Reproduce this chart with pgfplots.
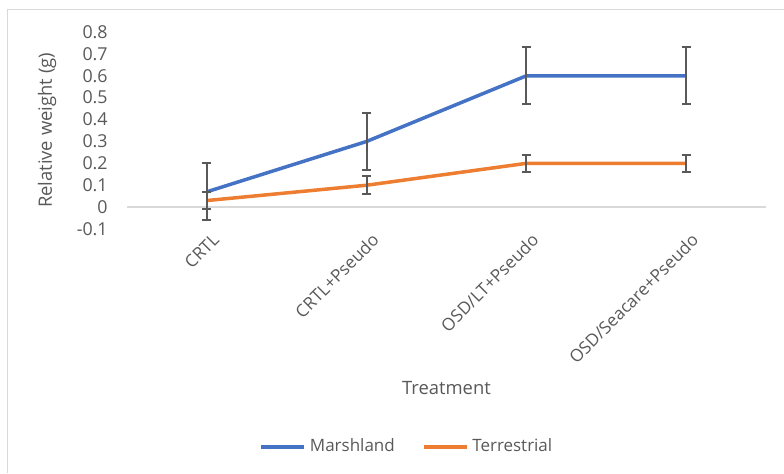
\documentclass[border=0pt]{standalone}
\usepackage{pgfplots}
\pgfplotsset{compat=1.18}
\usepackage{fontspec}
\setmainfont{Open Sans}
\definecolor{mblue}{HTML}{4472C4}
\definecolor{morange}{HTML}{ED7D31}
\definecolor{txtgray}{HTML}{595959}
\definecolor{gridgray}{HTML}{D9D9D9}
\begin{document}
\begin{tikzpicture}[x=1pt,y=1pt]
\path[use as bounding box] (-63.5,-122) rectangle (328.5,114.5);
\draw[gridgray, line width=0.8pt] (-59.75,-122) -- (-59.75,109.75) -- (328.5,109.75);
\begin{axis}[
  at={(0,0)}, anchor=south west,
  scale only axis, width=319.5pt, height=98.5pt,
  xmin=-0.5, xmax=3.5, ymin=-0.1, ymax=0.8,
  axis line style={draw=none},
  major tick length=0pt,
  xtick={0,1,2,3},
  xticklabels={CRTL,CRTL+Pseudo,OSD/LT+Pseudo,OSD/Seacare+Pseudo},
  ytick={-0.1,0,0.1,0.2,0.3,0.4,0.5,0.6,0.7,0.8},
  yticklabel style={anchor=east, inner sep=0pt, xshift=-9.5pt, font=\fontsize{8.9}{11}\selectfont},
  yticklabels={-0.1,0,0.1,0.2,0.3,0.4,0.5,0.6,0.7,0.8},
  xticklabel style={rotate=45, anchor=east, inner sep=0pt, xshift=0.5pt, yshift=-6pt, font=\fontsize{8.6}{10}\selectfont},
  tick label style={text=txtgray},
  xlabel={Treatment},
  xlabel style={at={(axis description cs:0.5,-0.807)}, anchor=center, font=\fontsize{9.2}{11}\selectfont, text=txtgray},
  ylabel={Relative weight (g)},
  ylabel style={at={(axis description cs:-0.125,0.5)}, anchor=center, rotate=0, font=\fontsize{9.2}{11}\selectfont, text=txtgray},
  legend columns=2,
  legend style={at={(axis description cs:0.4395,-1.1066)}, anchor=center, draw=none, fill=none,
    font=\fontsize{8.5}{10}\selectfont, text=txtgray,
    /tikz/every even column/.append style={column sep=11.5pt}},
  legend image code/.code={\draw[#1, line width=1.75pt] (0pt,0pt) -- (21.5pt,0pt);},
  clip=false,
]
\draw[gridgray, line width=0.75pt] (axis cs:-0.5,0) -- (axis cs:3.5,0);
\addplot[mblue, line width=1.75pt, no markers,
  error bars/.cd, y dir=both, y explicit,
  error bar style={txtgray, line width=1pt},
  error mark options={rotate=90, mark size=2.3pt, txtgray, line width=1pt}]
  coordinates {(0,0.07) +- (0,0.13) (1,0.30) +- (0,0.13) (2,0.60) +- (0,0.13) (3,0.60) +- (0,0.13)};
\addlegendentry{Marshland}
\addplot[morange, line width=1.75pt, no markers,
  error bars/.cd, y dir=both, y explicit,
  error bar style={txtgray, line width=1pt},
  error mark options={rotate=90, mark size=2.3pt, txtgray, line width=1pt}]
  coordinates {(0,0.03) +- (0,0.04) (1,0.10) +- (0,0.04) (2,0.20) +- (0,0.04) (3,0.20) +- (0,0.04)};
\addlegendentry{Terrestrial}
\end{axis}
\end{tikzpicture}
\end{document}
